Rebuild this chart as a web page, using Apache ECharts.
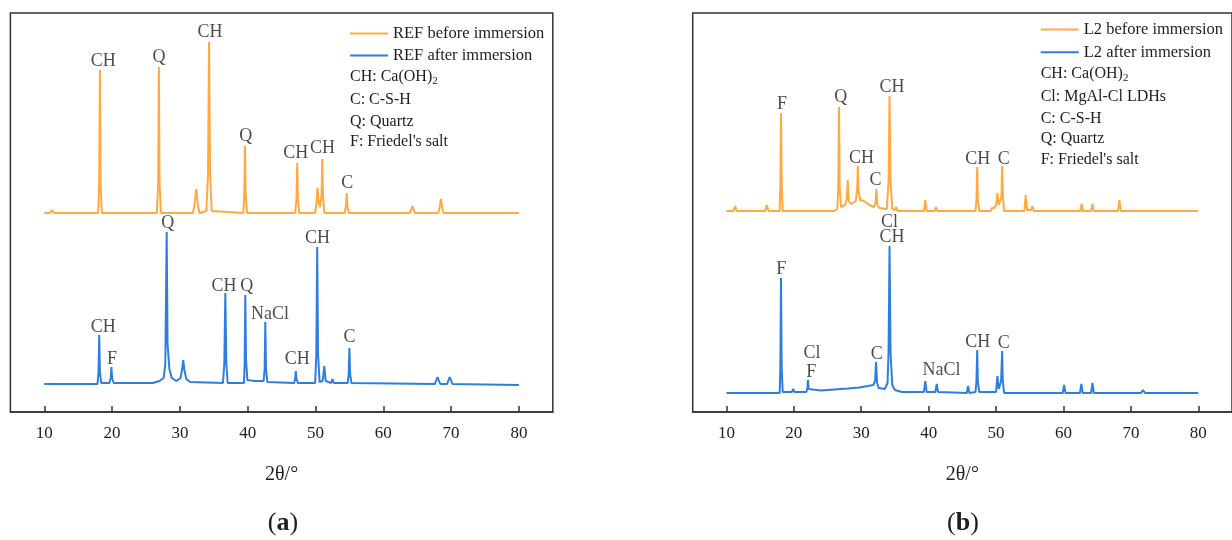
<!DOCTYPE html>
<html><head><meta charset="utf-8">
<script src="https://cdn.jsdelivr.net/npm/echarts@6/dist/echarts.min.js"></script>
<style>html,body{margin:0;padding:0;background:#fff}#c{width:1232px;height:540px}</style>
</head><body><div id="c"></div>
<script>
// x tick labels (2θ/°)
const xTicks = [10, 20, 30, 40, 50, 60, 70, 80];

// Series names
const namesA = ['REF before immersion', 'REF after immersion'];
const namesB = ['L2 before immersion', 'L2 after immersion'];

// Intensity (a.u., above each trace's own baseline): [2θ, intensity]
const refBefore = [[10,0],[10.8,0],[11.1,3],[11.4,0],[17.95,0],[18.1,30],[18.2,143],[18.3,30],[18.5,0],[19.9,0],[20.1,2],[20.3,0],[26.6,0],[26.8,30],[26.9,146],[27.0,30],[27.2,0],[31.9,0],[32.15,8],[32.4,24],[32.65,8],[32.9,0],[33.9,2],[34.15,40],[34.3,171],[34.45,40],[34.7,2],[39.35,0],[39.5,20],[39.6,67],[39.7,20],[39.9,0],[47.0,0],[47.2,15],[47.3,50],[47.4,15],[47.6,0],[49.95,0],[50.15,10],[50.3,25],[50.45,12],[50.65,6],[50.9,18],[51.0,54],[51.1,18],[51.3,0],[54.3,0],[54.5,7],[54.6,20],[54.7,7],[54.9,0],[63.9,0],[64.1,3],[64.3,7],[64.5,3],[64.7,0],[68.1,0],[68.3,5],[68.5,14],[68.7,5],[68.9,0],[80,0]];
const refAfter = [[10,0],[17.85,0],[18.0,12],[18.1,49],[18.2,12],[18.4,1],[19.6,1],[19.8,6],[19.9,17],[20.0,6],[20.25,1],[26.0,1],[27.0,3],[27.6,6],[27.85,20],[28.05,152],[28.18,40],[28.3,42],[28.45,15],[28.8,6],[29.5,3],[30.1,6],[30.35,16],[30.5,24],[30.65,14],[30.95,5],[31.5,2],[36.35,1],[36.55,20],[36.7,91],[36.85,20],[37.05,1],[39.45,1],[39.55,20],[39.65,89],[39.75,25],[39.95,4],[41.0,3],[42.35,3],[42.5,15],[42.6,62],[42.7,15],[42.9,2],[46.85,1],[47.0,5],[47.1,13],[47.2,5],[47.4,1],[49.95,1],[50.12,30],[50.25,137],[50.38,30],[50.6,2],[51.05,3],[51.3,18],[51.5,3],[52.3,1],[52.5,5],[52.7,1],[54.75,1],[54.9,10],[55.0,36],[55.1,10],[55.3,1],[67.6,0],[68.0,7],[68.4,0],[69.4,0],[69.8,7],[70.2,0],[80,-1]];
const l2Before = [[10,0],[11.05,0],[11.3,5],[11.55,0],[15.75,0],[16.0,6],[16.25,0],[17.9,0],[18.0,25],[18.1,98],[18.2,25],[18.35,0],[26.0,0],[26.45,2],[26.6,25],[26.7,104],[26.8,25],[27.0,4],[27.6,6],[27.85,12],[28.0,31],[28.15,10],[28.5,7],[29.2,10],[29.4,22],[29.5,45],[29.6,20],[29.85,11],[30.4,10],[31.2,6],[31.9,4],[32.1,8],[32.25,22],[32.4,6],[32.7,3],[33.8,2],[34.05,30],[34.2,115],[34.35,30],[34.6,2],[35.0,1],[35.2,4],[35.4,0],[39.3,0],[39.5,11],[39.7,0],[40.9,0],[41.1,4],[41.3,0],[46.95,0],[47.1,12],[47.2,44],[47.3,12],[47.5,0],[49.2,0],[49.4,3],[49.7,3],[50.0,6],[50.2,18],[50.4,6],[50.6,4],[50.8,15],[50.9,45],[51.0,15],[51.2,0],[54.2,0],[54.4,16],[54.6,1],[55.2,1],[55.4,5],[55.6,0],[62.5,0],[62.7,7],[62.9,0],[64.1,0],[64.3,7],[64.5,0],[68.1,0],[68.3,11],[68.5,0],[80,0]];
const l2After = [[10,0],[17.9,0],[18.0,25],[18.1,115],[18.2,25],[18.35,1],[19.7,1],[19.9,4],[20.1,1],[21.85,1],[22.0,4],[22.1,13],[22.2,4],[22.4,2],[24,2.5],[26,3.5],[28,4.5],[29.7,5.5],[31,7],[31.8,8],[32.05,12],[32.2,31],[32.35,10],[32.6,5],[33.5,4],[33.9,10],[34.05,40],[34.2,147],[34.35,40],[34.6,8],[35.0,3],[36.0,1],[39.3,1],[39.5,12],[39.7,1],[41.0,1],[41.2,9],[41.4,1],[45.65,0],[45.85,7],[46.05,0],[46.95,1],[47.1,12],[47.2,43],[47.3,12],[47.5,1],[50.0,1],[50.2,17],[50.4,4],[50.75,12],[50.9,42],[51.0,12],[51.2,0],[59.9,0],[60.1,8],[60.3,0],[62.45,0],[62.65,9],[62.85,0],[64.1,0],[64.3,10],[64.5,0],[71.5,0],[71.8,3],[72.1,0],[80,0]];

// Vertical offsets of the stacked traces (plot units)
const offRefBefore = 199, offRefAfter = 28, offL2Before = 201, offL2After = 19;

// Phase labels: [2θ, height in plot units, text]
const labelsA = [[18.7,351,'CH'],[26.9,355,'Q'],[34.45,380,'CH'],[39.7,276,'Q'],[47.1,259,'CH'],[51.05,264,'CH'],[54.7,229,'C'],
  [28.2,189,'Q'],[18.7,85,'CH'],[20.0,53,'F'],[36.5,126,'CH'],[39.85,126,'Q'],[43.3,98,'NaCl'],[47.3,53,'CH'],[50.3,174,'CH'],[55.0,75,'C']];
const labelsB = [[18.25,308,'F'],[26.95,315,'Q'],[30.05,254,'CH'],[32.1,232,'C'],[34.55,325,'CH'],[47.3,253,'CH'],[51.15,253,'C'],
  [18.15,143,'F'],[22.7,59,'Cl'],[22.6,40,'F'],[32.3,58,'C'],[34.2,190,'Cl'],[34.55,175,'CH'],[41.9,42,'NaCl'],[47.3,70,'CH'],[51.15,69,'C']];

// Key texts
const keyA = ['CH: Ca(OH){s|2}', 'C: C-S-H', 'Q: Quartz', "F: Friedel's salt"];
const keyB = ['CH: Ca(OH){s|2}', 'Cl: MgAl-Cl LDHs', 'C: C-S-H', 'Q: Quartz', "F: Friedel's salt"];

const ORANGE = '#FFA93E', BLUE = '#2E7FDB', INK = '#1e1e1e';
const SERIF = '"Liberation Serif", "Times New Roman", serif';

const shift = (arr, off) => arr.map(p => [p[0], p[1] + off]);

function xAxisFor(gi) {
  return {
    gridIndex: gi, type: 'value', min: 5, max: 85,
    name: '2θ/°', nameLocation: 'middle', nameGap: 53,
    nameTextStyle: { fontFamily: SERIF, fontSize: 20, color: INK },
    axisLine: { show: true, onZero: false, lineStyle: { color: '#333', width: 1.5 } },
    axisTick: { show: true, inside: true, length: 6, customValues: xTicks, lineStyle: { color: '#333', width: 1.5 } },
    axisLabel: { customValues: xTicks, margin: 13, fontFamily: SERIF, fontSize: 17, color: INK },
    splitLine: { show: false }
  };
}
function yAxisFor(gi) {
  return { gridIndex: gi, type: 'value', min: 0, max: 399, show: false, splitLine: { show: false } };
}
function lineSeries(name, data, off, color, gi) {
  return {
    name, type: 'line', xAxisIndex: gi, yAxisIndex: gi, data: shift(data, off),
    showSymbol: false, symbol: 'none', lineStyle: { color, width: 2 }, itemStyle: { color },
    silent: true, z: 3
  };
}
function labelSeries(labels, gi) {
  return {
    type: 'scatter', xAxisIndex: gi, yAxisIndex: gi, symbolSize: 0, silent: true, z: 5,
    data: labels.map(l => ({ value: [l[0], l[1]], name: l[2] })),
    label: { show: true, position: 'inside', formatter: '{b}', fontFamily: SERIF, fontSize: 18, color: INK }
  };
}
function keyGraphics(lines, x, ys) {
  return lines.map((t, i) => ({
    type: 'text', x, y: ys[i],
    style: {
      text: t, fontFamily: SERIF, fontSize: 16, fill: INK, verticalAlign: 'middle', lineHeight: 20,
      rich: { s: { fontSize: 11, lineHeight: 20, verticalAlign: 'bottom', fontFamily: SERIF, fill: INK } }
    }
  }));
}

const chart = echarts.init(document.getElementById('c'), null, { renderer: 'canvas' });
chart.setOption({
  animation: false,
  backgroundColor: '#fff',
  grid: [
    { left: 10.4, top: 13, width: 542.4, height: 399, show: true, borderColor: '#333', borderWidth: 1.5, containLabel: false },
    { left: 692.7, top: 13, width: 542.9, height: 399, show: true, borderColor: '#333', borderWidth: 1.5, containLabel: false }
  ],
  xAxis: [xAxisFor(0), xAxisFor(1)],
  yAxis: [yAxisFor(0), yAxisFor(1)],
  legend: [
    { data: namesA, left: 350, top: 25, orient: 'vertical', icon: 'rect', itemWidth: 38, itemHeight: 2, itemGap: 5,
      textStyle: { fontFamily: SERIF, fontSize: 16.5, color: INK, lineHeight: 16 }, selectedMode: false, padding: 0 },
    { data: namesB, left: 1040.7, top: 21, orient: 'vertical', icon: 'rect', itemWidth: 38, itemHeight: 2, itemGap: 5.7,
      textStyle: { fontFamily: SERIF, fontSize: 16.5, color: INK, lineHeight: 16 }, selectedMode: false, padding: 0 }
  ],
  series: [
    lineSeries(namesA[0], refBefore, offRefBefore, ORANGE, 0),
    lineSeries(namesA[1], refAfter, offRefAfter, BLUE, 0),
    labelSeries(labelsA, 0),
    lineSeries(namesB[0], l2Before, offL2Before, ORANGE, 1),
    lineSeries(namesB[1], l2After, offL2After, BLUE, 1),
    labelSeries(labelsB, 1)
  ],
  graphic: [
    ...keyGraphics(keyA, 350, [77, 100, 122, 142]),
    ...keyGraphics(keyB, 1040.7, [74, 96.7, 118.3, 138.3, 159.3]),
    { type: 'text', x: 283, y: 523, style: { text: '({b|a})', fontFamily: SERIF, fontSize: 26, fill: INK, align: 'center', verticalAlign: 'middle',
        rich: { b: { fontFamily: SERIF, fontSize: 26, fontWeight: 'bold', fill: INK } } } },
    { type: 'text', x: 963, y: 523, style: { text: '({b|b})', fontFamily: SERIF, fontSize: 26, fill: INK, align: 'center', verticalAlign: 'middle',
        rich: { b: { fontFamily: SERIF, fontSize: 26, fontWeight: 'bold', fill: INK } } } }
  ]
});
</script>
</body></html>
